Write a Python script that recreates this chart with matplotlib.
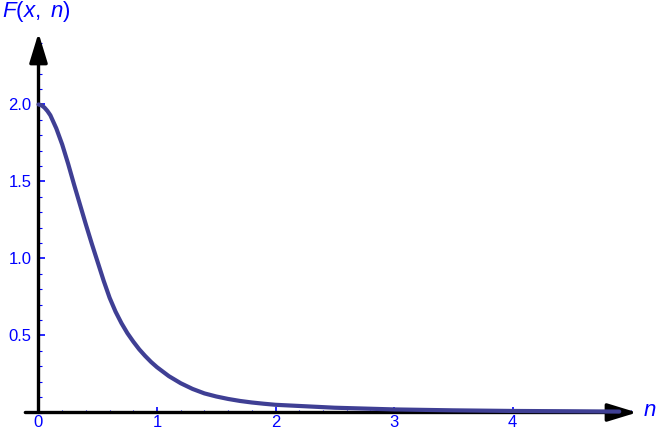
import matplotlib
matplotlib.use('Agg')
from matplotlib import pyplot as plt
from matplotlib.ticker import MultipleLocator

# values
n_vals = [0.0, 0.025, 0.05, 0.075, 0.1, 0.15, 0.2, 0.25, 0.3, 0.35, 0.4, 0.45, 0.5, 0.55,
          0.6, 0.65, 0.7, 0.75, 0.8, 0.85, 0.9, 0.95, 1.0, 1.1, 1.2, 1.3, 1.4, 1.5, 1.6,
          1.7, 1.8, 1.9, 2.0, 2.5, 3.0, 3.5, 4.0, 4.5, 4.9]
f_vals = [2.0, 1.995, 1.98, 1.958, 1.93, 1.845, 1.74, 1.615, 1.48, 1.35, 1.22, 1.095,
          0.975, 0.855, 0.745, 0.655, 0.58, 0.515, 0.46, 0.41, 0.367, 0.328, 0.294, 0.236,
          0.19, 0.153, 0.124, 0.104, 0.088, 0.075, 0.065, 0.057, 0.05, 0.031, 0.02, 0.014,
          0.01, 0.008, 0.006]

x_ticks = [0, 1, 2, 3, 4]
y_ticks = [0.5, 1.0, 1.5, 2.0]

plt.rcParams['font.family'] = ['Liberation Sans', 'DejaVu Sans']
plt.rcParams['mathtext.fontset'] = 'custom'
plt.rcParams['mathtext.it'] = 'Liberation Sans:italic'
plt.rcParams['mathtext.rm'] = 'Liberation Sans'

fig = plt.figure(figsize=(6.65, 4.32), dpi=100)
ax = fig.add_axes([38.5 / 665, 19.5 / 432, 598.5 / 665, 379.5 / 432])
ax.set_xlim(0, 5.05)
ax.set_ylim(0, 2.464)

for s in ax.spines.values():
    s.set_visible(False)

ax.plot(n_vals, f_vals, color='#3f3f94', lw=3, clip_on=False, zorder=5,
        solid_capstyle='round', solid_joinstyle='round')

arrow = dict(arrowstyle='-|>,head_length=1.8,head_width=0.55', lw=2.4,
             color='black', shrinkA=0, shrinkB=0)
ax.annotate('', xy=(1, 0), xytext=(-0.022, 0), xycoords='axes fraction',
            textcoords='axes fraction', arrowprops=arrow, zorder=3)
ax.annotate('', xy=(0, 1), xytext=(0, 0), xycoords='axes fraction',
            textcoords='axes fraction', arrowprops=arrow, zorder=3)

ax.set_xticks(x_ticks)
ax.set_yticks(y_ticks)
ax.set_xticklabels([str(t) for t in x_ticks])
ax.set_yticklabels([f'{t:.1f}' for t in y_ticks])
ax.xaxis.set_minor_locator(MultipleLocator(0.2))
ax.yaxis.set_minor_locator(MultipleLocator(0.1))
ax.tick_params(axis='both', which='major', direction='in', length=4, width=1.2,
               color='blue', labelcolor='blue', labelsize=12, pad=5)
ax.tick_params(axis='x', which='major', pad=1.5)
ax.tick_params(axis='both', which='minor', direction='in', length=2, width=0.8,
               color='blue')

fig.text(2 / 665, 1 - 12 / 432, r'$F(x,\ n)$', color='blue', fontsize=16,
         ha='left', va='center')
fig.text(643 / 665, 1 - 411 / 432, r'$n$', color='blue', fontsize=16,
         ha='left', va='center')

plt.savefig('out.png')
plt.close()
